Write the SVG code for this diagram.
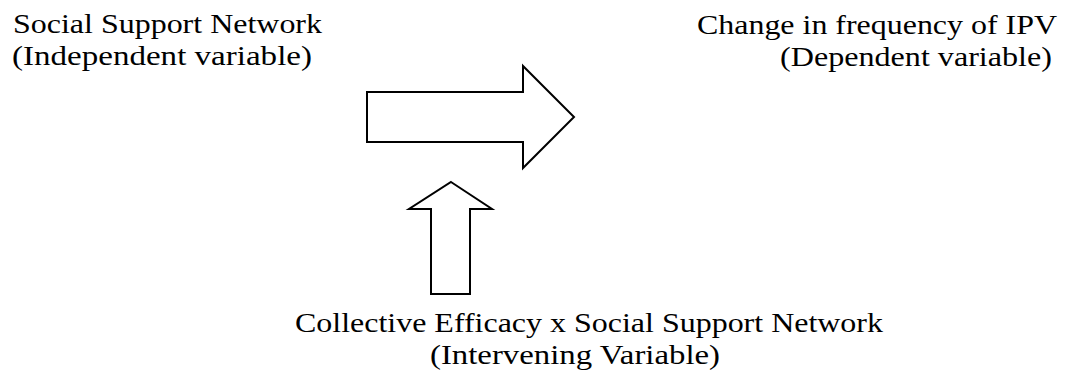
<svg xmlns="http://www.w3.org/2000/svg" width="1067" height="372" viewBox="0 0 1067 372">
<style>
.t{font-family:"Liberation Serif","Times New Roman",serif;font-size:28px;fill:#000}
.a{fill:#fff;stroke:#000;stroke-width:2;stroke-linejoin:miter}
</style>
<rect width="1067" height="372" fill="#fff"/>
<g id="independent">
<text class="t" x="13" y="33" textLength="309" lengthAdjust="spacingAndGlyphs">Social Support Network</text>
<text class="t" x="12" y="65" textLength="300" lengthAdjust="spacingAndGlyphs">(Independent variable)</text>
</g>
<g id="dependent">
<text class="t" x="697" y="34" textLength="360" lengthAdjust="spacingAndGlyphs">Change in frequency of IPV</text>
<text class="t" x="780" y="66" textLength="272" lengthAdjust="spacingAndGlyphs">(Dependent variable)</text>
</g>
<g id="intervening">
<text class="t" x="295" y="332" textLength="588" lengthAdjust="spacingAndGlyphs">Collective Efficacy x Social Support Network</text>
<text class="t" x="430" y="364" textLength="290" lengthAdjust="spacingAndGlyphs">(Intervening Variable)</text>
</g>
<g id="connectors">
<polygon class="a" points="367,92 523,92 523,66 574,117 523,168 523,142 367,142"/>
<polygon class="a" points="451,182 492,209 470,209 470,294 431,294 431,209 409,209"/>
</g>
</svg>
